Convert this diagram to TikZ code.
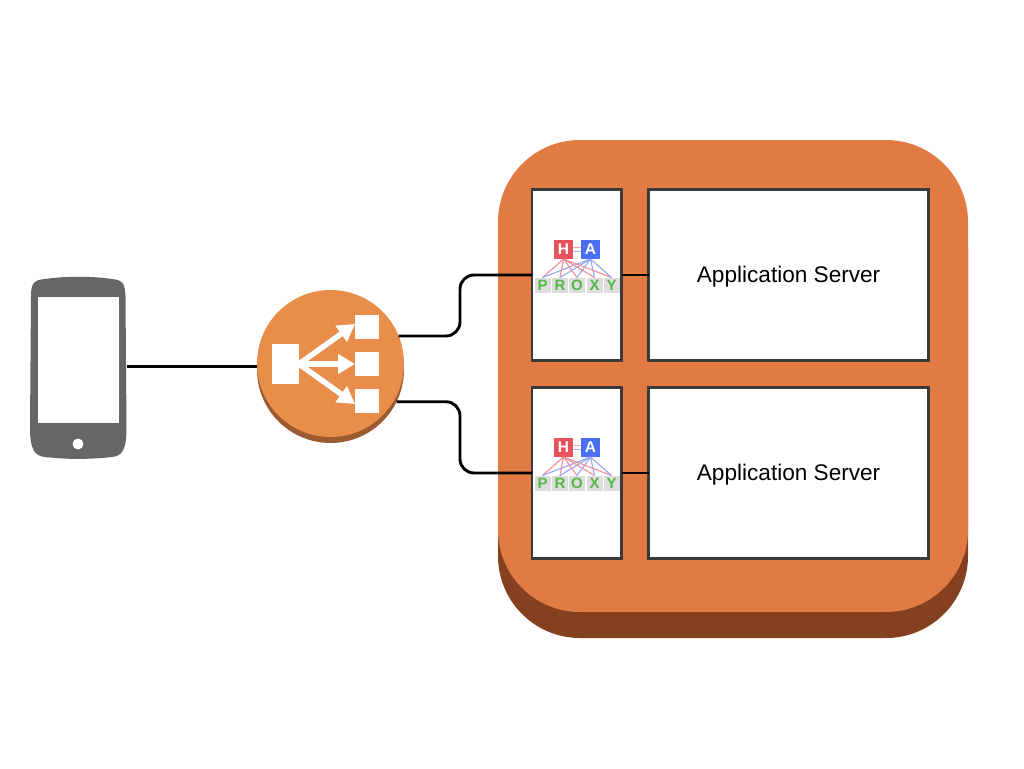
\documentclass[tikz,border=0pt]{standalone}
\usepackage{fontspec}
\setmainfont{Liberation Sans}
\usetikzlibrary{arrows.meta}
\definecolor{awsbig}{HTML}{E27A44}
\definecolor{awsbigd}{HTML}{84401F}
\definecolor{lbtop}{HTML}{E88D4A}
\definecolor{lbdark}{HTML}{9C5A30}
\definecolor{phonegray}{HTML}{666666}
\definecolor{boxline}{HTML}{3A3A3A}
\definecolor{hared}{HTML}{E8525C}
\definecolor{hablue}{HTML}{4C6EF5}
\definecolor{proxygreen}{HTML}{55B848}
\definecolor{proxybg}{HTML}{DDDDDD}
\tikzset{
  x=1pt,y=-1pt,
  every node/.style={inner sep=0pt,outer sep=0pt},
  bigshape/.style={rounded corners=82pt,minimum width=470pt,minimum height=472pt},
  serverbox/.style={draw=boxline,line width=2.8pt,fill=white},
  apptext/.style={font=\fontsize{22.6}{24}\selectfont},
  wire/.style={black,line width=2.9pt},
  whitebox/.style={fill=white},
  lbarrow/.style={white,line width=5.5pt,-{Triangle[length=17pt,width=19pt]}},
  hal/.style={minimum size=19pt,font=\bfseries\fontsize{15.5}{15.5}\selectfont,text=white},
  pxl/.style={fill=proxybg,minimum width=16pt,minimum height=15pt,font=\bfseries\fontsize{15}{15}\selectfont,text=proxygreen},
  redl/.style={draw=hared!65,line width=1.1pt},
  bluel/.style={draw=hablue!60,line width=1.1pt},
  hapic/.pic={
    \node[hal,fill=hared] (-h) at (0,0) {H};
    \node[hal,fill=hablue] (-a) at (27,0) {A};
    \node[pxl] (-p) at (-21,35.5) {P};
    \node[pxl] (-r) at (-3.5,35.5) {R};
    \node[pxl] (-o) at (13.5,35.5) {O};
    \node[pxl] (-x) at (31,35.5) {X};
    \node[pxl] (-y) at (48,35.5) {Y};
    \draw[hared!50,line width=1pt] ([yshift=2pt]-h.east) -- ([yshift=2pt]-a.west);
    \draw[hablue!50,line width=1pt] ([yshift=-2pt]-h.east) -- ([yshift=-2pt]-a.west);
    \foreach \t in {p,r,o,x,y}{
      \draw[redl] (-h.south) -- (-\t.north);
      \draw[bluel] (-a.south) -- (-\t.north);
    }
  }
}
\begin{document}
\begin{tikzpicture}
\useasboundingbox (0,0) rectangle (1024,768);
% big box
\node[bigshape,fill=awsbigd] (bigd) at (733,402) {};
\node[bigshape,fill=awsbig] (big) at (733,376) {};
% servers
\node[serverbox,minimum width=89.5pt,minimum height=170.5pt] (ha1) at (576.8,275) {};
\node[serverbox,minimum width=280.2pt,minimum height=170.5pt,apptext] (app1) at (788.6,275) {\raisebox{-7pt}[0pt][0pt]{Application Server}};
\node[serverbox,minimum width=89.5pt,minimum height=170.5pt] (ha2) at (576.8,473) {};
\node[serverbox,minimum width=280.2pt,minimum height=170.5pt,apptext] (app2) at (788.6,473) {\raisebox{-7pt}[0pt][0pt]{Application Server}};
\pic (logo1) at (563.5,249.5) {hapic};
\pic (logo2) at (563.5,447.5) {hapic};
% load balancer
\node[circle,fill=lbdark,minimum size=147pt] (lbd) at (330.5,369.5) {};
\node[circle,fill=lbtop,minimum size=147pt] (lb) at (330.5,363.5) {};
\node[whitebox,minimum width=27pt,minimum height=40pt] (src) at (285.5,364) {};
\node[whitebox,minimum size=24pt] (t1) at (367,327) {};
\node[whitebox,minimum size=24pt] (t2) at (367,364) {};
\node[whitebox,minimum size=24pt] (t3) at (367,401) {};
\draw[lbarrow] (src.east) -- ([yshift=3pt]t1.west);
\draw[lbarrow] (src.east) -- (t2.west);
\draw[lbarrow] (src.east) -- ([yshift=-3pt]t3.west);
% phone
\node[minimum width=97pt,minimum height=181pt] (phone) at (78.5,366.7) {};
\fill[phonegray] (31,296) .. controls (31,283) and (34,280) .. (45,279)
  .. controls (65,276) and (92,276) .. (112,279)
  .. controls (123,280) and (125,284) .. (125.5,296)
  -- (126.5,428) .. controls (126.5,450) and (122,456) .. (112,457)
  .. controls (90,459.5) and (66,459.5) .. (45,457)
  .. controls (35,456) and (30,450) .. (30,428) -- cycle;
\node[whitebox,minimum width=81pt,minimum height=126pt] (screen) at (78.5,360) {};
\node[whitebox,circle,minimum size=11pt] (button) at (78,444) {};
% connectors
\coordinate (bend1) at (460,305);
\coordinate (bend2) at (460,437);
\draw[wire] (phone.east) -- (phone.east -| lb.west);
\draw[wire,rounded corners=14pt] (lb.22) -| (bend1) |- (ha1.west);
\draw[wire,rounded corners=14pt] (lbd.-26.5) -| (bend2) |- (ha2.west);
\draw[wire] (ha1.east) -- (app1.west);
\draw[wire] (ha2.east) -- (app2.west);
\end{tikzpicture}
\end{document}
